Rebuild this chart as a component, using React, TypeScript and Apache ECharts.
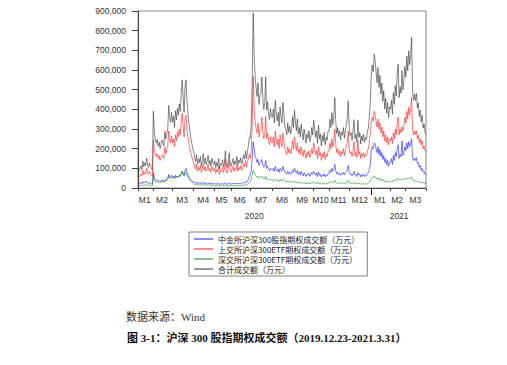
import React, { useEffect, useRef } from 'react';
import * as echarts from 'echarts';

// Month axis: trading days per month, 2020-01 .. 2021-03
const monthLabels = ['M1', 'M2', 'M3', 'M4', 'M5', 'M6', 'M7', 'M8', 'M9', 'M10', 'M11', 'M12', 'M1', 'M2', 'M3'];
const monthYears = [2020, 2020, 2020, 2020, 2020, 2020, 2020, 2020, 2020, 2020, 2020, 2020, 2021, 2021, 2021];
const monthDays = [16, 20, 22, 21, 18, 20, 23, 21, 22, 16, 21, 23, 20, 15, 23];
const yearLabels = ['2020', '2021'];

// y axis ticks
const yMax = 900000;
const yStep = 100000;

// Daily trading value, in thousands of 万元
const cffex = [
  15, 22, 25, 28, 22, 32, 26, 32, 28, 34, 25, 22, 28, 25, 22, 20,
  80, 50, 42, 38, 40, 35, 38, 33, 36, 40, 38, 35, 42, 40, 45, 50, 70, 60, 55, 65,
  55, 60, 50, 65, 55, 60, 55, 65, 60, 70, 85, 75, 65, 90, 100, 80, 65, 55, 48, 42, 38, 35,
  32, 28, 25, 30, 22, 26, 24, 28, 20, 24, 30, 22, 26, 20, 23, 28, 21, 24, 19, 25, 22,
  20, 24, 18, 22, 19, 25, 17, 21, 20, 24, 18, 22, 28, 20, 18, 23, 25, 21,
  20, 22, 25, 20, 24, 21, 26, 20, 24, 22, 25, 21, 24, 28, 26, 32, 28, 35, 45, 60,
  70, 90, 150, 235, 200, 160, 150, 130, 145, 115, 125, 130, 145, 120, 105, 110, 140, 100, 110, 95, 88, 100, 92,
  90, 100, 85, 110, 95, 85, 95, 80, 100, 90, 85, 110, 95, 80, 75, 70, 85, 72, 80, 70, 75,
  90, 80, 100, 85, 75, 90, 70, 80, 65, 85, 72, 62, 78, 68, 58, 70, 65, 75, 60, 66, 80, 70,
  85, 78, 65, 75, 58, 82, 64, 70, 55, 68, 60, 72, 56, 66, 62, 74,
  75, 90, 80, 100, 85, 95, 120, 88, 72, 80, 68, 76, 64, 74, 70, 80, 66, 76, 85, 92, 115,
  80, 70, 72, 62, 75, 85, 65, 70, 58, 78, 66, 72, 56, 68, 60, 70, 58, 65, 62, 75, 80, 95, 120,
  190, 210, 200, 230, 225, 200, 180, 210, 170, 195, 160, 180, 145, 165, 130, 150, 120, 140, 110, 130,
  130, 150, 120, 165, 140, 180, 160, 200, 220, 150, 170, 160, 240, 165, 180,
  210, 190, 230, 200, 235, 210, 225, 250, 160, 140, 150, 140, 155, 125, 130, 105, 115, 90, 100, 80, 85, 70, 65,
];
const sse = [
  35, 55, 62, 70, 60, 90, 68, 80, 72, 100, 78, 70, 85, 75, 68, 58,
  245, 190, 170, 160, 175, 150, 165, 140, 155, 170, 160, 150, 210, 175, 195, 210, 290, 250, 230, 265,
  230, 250, 210, 270, 240, 285, 260, 300, 270, 330, 380, 320, 260, 350, 370, 300, 260, 230, 200, 180, 160, 140,
  130, 110, 95, 120, 85, 105, 90, 115, 80, 100, 125, 90, 110, 85, 95, 120, 88, 100, 80, 110, 95,
  85, 100, 75, 95, 80, 110, 70, 90, 85, 105, 78, 95, 145, 85, 75, 100, 140, 90,
  80, 95, 110, 85, 100, 90, 120, 85, 105, 95, 115, 90, 100, 125, 110, 140, 105, 130, 150, 170,
  150, 190, 330, 565, 400, 340, 300, 280, 330, 260, 290, 300, 360, 290, 250, 270, 365, 250, 280, 240, 220, 260, 230,
  230, 260, 210, 290, 240, 220, 250, 200, 270, 230, 210, 280, 240, 200, 190, 170, 210, 180, 200, 175, 190,
  240, 200, 260, 220, 190, 230, 180, 200, 170, 210, 185, 160, 195, 175, 150, 180, 165, 190, 155, 170, 200, 175,
  230, 200, 170, 190, 150, 210, 165, 180, 140, 175, 155, 185, 145, 170, 160, 190,
  190, 230, 200, 250, 210, 240, 300, 220, 180, 200, 170, 190, 160, 185, 175, 200, 165, 190, 210, 230, 290,
  200, 175, 185, 160, 190, 235, 165, 180, 155, 240, 170, 185, 150, 175, 160, 180, 155, 170, 165, 190, 200, 240, 280,
  330, 360, 340, 390, 370, 340, 310, 350, 300, 330, 280, 310, 260, 290, 240, 270, 230, 260, 220, 250,
  240, 260, 225, 280, 250, 300, 270, 330, 360, 270, 300, 280, 310, 290, 320,
  360, 330, 390, 350, 410, 370, 400, 460, 300, 270, 290, 270, 290, 250, 270, 230, 250, 220, 240, 200, 215, 190, 185,
];
const szse = [
  8, 10, 12, 14, 12, 16, 13, 16, 14, 17, 14, 12, 15, 14, 12, 11,
  65, 40, 35, 30, 32, 28, 30, 28, 30, 34, 32, 30, 36, 35, 38, 42, 60, 50, 48, 55,
  50, 55, 48, 58, 52, 60, 55, 62, 60, 75, 85, 70, 60, 75, 80, 65, 55, 48, 40, 35, 30, 28,
  22, 18, 16, 20, 14, 17, 15, 18, 13, 16, 19, 14, 17, 13, 15, 18, 14, 16, 12, 16, 14,
  12, 14, 11, 13, 11, 15, 10, 12, 12, 14, 11, 13, 16, 12, 11, 13, 14, 12,
  11, 12, 14, 11, 13, 12, 14, 11, 13, 12, 14, 12, 13, 15, 14, 17, 15, 18, 22, 28,
  35, 45, 70, 90, 80, 65, 60, 55, 60, 50, 55, 55, 60, 50, 45, 48, 60, 45, 48, 42, 40, 45, 40,
  40, 42, 36, 45, 40, 36, 40, 34, 42, 38, 36, 45, 40, 34, 32, 30, 36, 30, 34, 30, 32,
  32, 28, 35, 30, 26, 31, 25, 28, 24, 30, 26, 22, 27, 24, 20, 25, 23, 26, 21, 23, 28, 25,
  30, 27, 23, 26, 20, 28, 22, 24, 19, 24, 21, 25, 19, 23, 21, 25,
  25, 30, 27, 33, 28, 32, 40, 29, 24, 27, 23, 25, 21, 25, 23, 27, 22, 25, 28, 31, 38,
  26, 23, 24, 20, 25, 28, 21, 23, 19, 26, 22, 24, 18, 22, 20, 23, 19, 21, 20, 24, 26, 30, 36,
  50, 55, 52, 60, 58, 50, 46, 52, 42, 48, 38, 44, 36, 40, 32, 36, 30, 34, 28, 32,
  32, 36, 30, 40, 35, 42, 38, 46, 50, 40, 44, 42, 46, 43, 47,
  48, 44, 50, 46, 52, 47, 50, 55, 40, 36, 38, 34, 36, 32, 33, 29, 31, 27, 29, 25, 26, 23, 22,
];
const total = [
  58, 87, 99, 112, 94, 138, 107, 128, 114, 151, 117, 104, 128, 114, 102, 89,
  390, 280, 247, 228, 247, 213, 233, 201, 221, 244, 230, 215, 288, 250, 278, 302, 420, 360, 333, 385,
  335, 365, 308, 393, 347, 405, 370, 427, 390, 475, 550, 465, 385, 515, 550, 445, 380, 333, 288, 257, 228, 203,
  184, 156, 136, 170, 121, 148, 129, 161, 113, 140, 174, 126, 153, 118, 133, 166, 123, 140, 111, 151, 131,
  117, 138, 104, 130, 110, 150, 97, 123, 117, 143, 107, 130, 189, 117, 104, 136, 179, 123,
  111, 129, 149, 116, 137, 123, 160, 116, 142, 129, 154, 123, 137, 168, 150, 189, 148, 183, 217, 258,
  255, 325, 550, 890, 680, 565, 510, 465, 535, 425, 470, 485, 565, 460, 400, 428, 565, 395, 438, 377, 348, 405, 362,
  360, 402, 331, 445, 375, 341, 385, 314, 412, 358, 331, 435, 375, 314, 297, 270, 331, 282, 314, 275, 297,
  362, 308, 395, 335, 291, 351, 275, 308, 259, 325, 283, 244, 300, 267, 228, 275, 253, 291, 236, 259, 308, 270,
  345, 305, 258, 291, 228, 320, 251, 274, 214, 267, 236, 282, 220, 259, 243, 289,
  290, 350, 307, 383, 323, 367, 460, 337, 276, 307, 261, 291, 245, 284, 268, 307, 253, 291, 323, 353, 443,
  306, 268, 281, 242, 290, 348, 251, 273, 232, 344, 258, 281, 224, 265, 240, 273, 232, 256, 247, 289, 306, 365, 436,
  570, 625, 592, 680, 653, 590, 536, 612, 512, 573, 478, 534, 441, 495, 402, 456, 380, 434, 358, 412,
  402, 446, 375, 485, 425, 522, 468, 576, 630, 460, 514, 482, 596, 498, 547,
  618, 564, 670, 596, 697, 627, 675, 765, 500, 446, 478, 444, 481, 407, 433, 364, 396, 337, 369, 305, 326, 283, 272,
];

const seriesNames = [
  '中金所沪深300股指期权成交额（万元）',
  '上交所沪深300ETF期权成交额（万元）',
  '深交所沪深300ETF期权成交额（万元）',
  '合计成交额（万元）',
];
const seriesColors = ['#1a1aff', '#ff1a1a', '#1a8a1a', '#333333'];

const sourceText = '数据来源：Wind';
const captionText = '图 3-1：沪深 300 股指期权成交额（2019.12.23-2021.3.31）';

// ---- build category axis from month lengths ----
const dayNames: string[] = [];
const tickSet = new Set<number>();
const monthMid: Record<number, string> = {};
const yearRange: Record<string, [number, number]> = {};
let yearBoundary = -1;
{
  let idx = 0;
  monthDays.forEach((n, m) => {
    tickSet.add(idx);
    monthMid[idx + Math.floor((n - 1) / 2)] = monthLabels[m];
    const y = String(monthYears[m]);
    if (!yearRange[y]) {
      yearRange[y] = [idx, idx + n - 1];
      if (idx > 0) yearBoundary = idx;
    } else yearRange[y][1] = idx + n - 1;
    for (let d = 0; d < n; d++) dayNames.push(`${monthYears[m]}-${String((m % 12) + 1).padStart(2, '0')}-${d + 1}`);
    idx += n;
  });
  tickSet.add(idx - 1);
}
const yearMid: Record<number, string> = {};
yearLabels.forEach((y) => {
  const r = yearRange[y];
  if (r) yearMid[Math.round((r[0] + r[1]) / 2)] = y;
});

const toValues = (arr: number[]) => arr.map((v) => v * 1000);
const seriesData = [cffex, sse, szse, total];

const axisColor = '#444';
const labelFont = 'Liberation Sans, Arial, sans-serif';

export default function App() {
  const ref = useRef<HTMLDivElement>(null);
  useEffect(() => {
    if (!ref.current) return;
    const chart = echarts.init(ref.current, undefined, { renderer: 'svg' });
    const option: any = {
      animation: false,
      backgroundColor: '#fff',
      grid: {
        left: 138, right: 81, top: 11, bottom: 177,
        show: true, borderColor: '#888', borderWidth: 1, backgroundColor: 'transparent',
        containLabel: false, outerBoundsMode: 'none',
      },
      legend: {
        orient: 'vertical', left: 189, top: 232,
        data: seriesNames,
        icon: 'rect',
        itemWidth: 19, itemHeight: 1, itemGap: 0,
        padding: [2, 8, 2, 5],
        borderColor: '#808080', borderWidth: 1,
        textStyle: { fontSize: 8, color: '#222', lineHeight: 10, height: 10, fontFamily: 'Noto Sans CJK SC, sans-serif' },
        selectedMode: false,
      },
      xAxis: [
        {
          type: 'category', data: dayNames, boundaryGap: false,
          axisLine: { show: true, lineStyle: { color: axisColor, width: 1 } },
          axisTick: { show: true, interval: (i: number) => tickSet.has(i), length: 3, lineStyle: { color: axisColor } },
          axisLabel: {
            interval: (i: number) => monthMid[i] !== undefined,
            formatter: (_v: string, i: number) => monthMid[i] ?? '',
            fontSize: 8.5, color: '#333', margin: 7, fontFamily: labelFont, hideOverlap: false,
          },
          splitLine: { show: false },
        },
        {
          type: 'category', data: dayNames, boundaryGap: false, position: 'bottom', offset: 16,
          axisLine: { show: false }, axisTick: { show: false },
          axisLabel: {
            interval: (i: number) => yearMid[i] !== undefined,
            formatter: (_v: string, i: number) => yearMid[i] ?? '',
            fontSize: 8.5, color: '#333', margin: 7, fontFamily: labelFont,
          },
          splitLine: { show: false },
        },
        {
          type: 'category', data: dayNames, boundaryGap: false, position: 'bottom',
          axisLine: { show: false },
          axisTick: { show: true, interval: (i: number) => i === yearBoundary, length: 7, lineStyle: { color: '#111' } },
          axisLabel: { show: false },
          splitLine: { show: false },
        },
      ],
      yAxis: {
        type: 'value', min: 0, max: yMax, interval: yStep,
        axisLine: { show: true, lineStyle: { color: axisColor, width: 1 } },
        axisTick: { show: true, length: 6, lineStyle: { color: axisColor } },
        axisLabel: {
          formatter: (v: number) => v.toLocaleString('en-US'),
          fontSize: 8.5, color: '#333', margin: 12, fontFamily: labelFont,
        },
        splitLine: { show: false },
      },
      series: seriesNames.map((name, k) => ({
        type: 'line', name, data: toValues(seriesData[k]),
        symbol: 'none', showSymbol: false, silent: true,
        z: k === 3 ? 1 : 2,
        lineStyle: { width: 0.6, color: seriesColors[k] },
        itemStyle: { color: seriesColors[k] },
        emphasis: { disabled: true },
      })),
      graphic: [
        {
          type: 'text', left: 126, top: 311,
          style: { text: sourceText, fontSize: 11, fill: '#333', fontFamily: 'Liberation Serif, Noto Sans CJK SC, serif' },
        },
        {
          type: 'text', left: 127, top: 332,
          style: { text: captionText, fontSize: 11, fontWeight: 'bold', fill: '#111', fontFamily: 'Liberation Serif, Noto Sans CJK SC, serif' },
        },
      ],
    };
    chart.setOption(option);
    return () => chart.dispose();
  }, []);
  return <div ref={ref} style={{ position: 'fixed', left: 0, top: 0, width: 507, height: 365, background: '#fff' }} />;
}
